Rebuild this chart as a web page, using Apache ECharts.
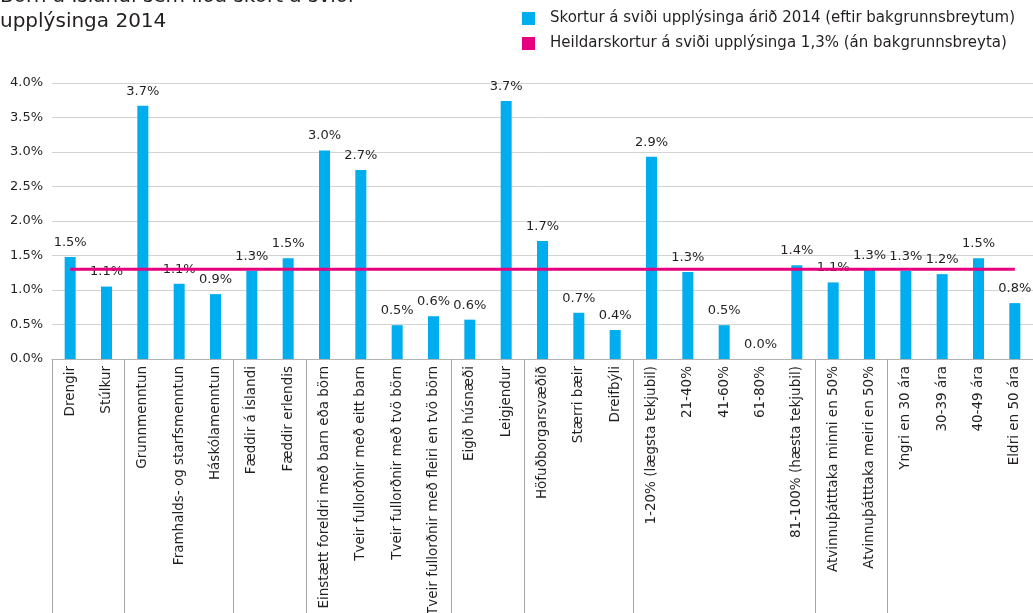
<!DOCTYPE html>
<html>
<head>
<meta charset="utf-8">
<style>
  html, body { margin: 0; padding: 0; background: #fff; }
  #chart { width: 1033px; height: 613px; }
</style>
<script src="https://cdn.jsdelivr.net/npm/echarts@6/dist/echarts.min.js"></script>
</head>
<body>
<div id="chart"></div>
<script>
// Background groups, in axis order
const categories = [
  'Drengir', 'Stúlkur',
  'Grunnmenntun', 'Framhalds- og starfsmenntun', 'Háskólamenntun',
  'Fæddir á Íslandi', 'Fæddir erlendis',
  'Einstætt foreldri með barn eða börn', 'Tveir fullorðnir með eitt barn',
  'Tveir fullorðnir með tvö börn', 'Tveir fullorðnir með fleiri en tvö börn',
  'Eigið húsnæði', 'Leigjendur',
  'Höfuðborgarsvæðið', 'Stærri bæir', 'Dreifbýli',
  '1-20% (lægsta tekjubil)', '21-40%', '41-60%', '61-80%', '81-100% (hæsta tekjubil)',
  'Atvinnuþátttaka minni en 50%', 'Atvinnuþátttaka meiri en 50%',
  'Yngri en 30 ára', '30-39 ára', '40-49 ára', 'Eldri en 50 ára'
];

// Index of the first category in each background group (group dividers)
const groupStarts = [0, 2, 5, 7, 11, 13, 16, 21, 23];

// Deprivation in information, 2014, % of children
const skortur = [
  1.48, 1.05,
  3.67, 1.09, 0.94,
  1.28, 1.46,
  3.02, 2.74, 0.49, 0.62,
  0.57, 3.74,
  1.71, 0.67, 0.42,
  2.93, 1.26, 0.49, 0.0, 1.36,
  1.11, 1.29,
  1.28, 1.23, 1.46, 0.81
];

// Overall deprivation without background variables
const heildarskortur = 1.3;

const yTicks = { min: 0, max: 4, interval: 0.5 };

const seriesNames = [
  'Skortur á sviði upplýsinga árið 2014 (eftir bakgrunnsbreytum)',
  'Heildarskortur á sviði upplýsinga 1,3% (án bakgrunnsbreyta)'
];

const FONT = '"DejaVu Sans", Verdana, sans-serif';
const INK = '#231f20';
const pct = v => v.toFixed(1) + '%';

const chart = echarts.init(document.getElementById('chart'), null, { renderer: 'canvas' });

chart.setOption({
  animation: false,
  textStyle: { fontFamily: FONT },
  title: {
    text: 'Börn á Íslandi sem líða skort á sviði\nupplýsinga 2014',
    left: -5,
    top: -21,
    textStyle: { fontFamily: FONT, fontSize: 20, fontWeight: 'normal', color: INK, lineHeight: 25 }
  },
  legend: {
    orient: 'vertical',
    left: 517,
    top: 6,
    itemGap: 10,
    itemWidth: 13,
    itemHeight: 13,
    icon: 'rect',
    textStyle: { fontFamily: FONT, fontSize: 15, color: INK, padding: [0, 0, 0, 10] },
    data: [
      { name: seriesNames[0], icon: 'rect' },
      { name: seriesNames[1], icon: 'rect', itemStyle: { color: '#e6007e' } }
    ]
  },
  grid: { left: 52, right: 0, top: 83, bottom: 254, containLabel: false, outerBoundsMode: 'none' },
  xAxis: {
    type: 'category',
    data: categories,
    boundaryGap: true,
    axisLine: { show: true, lineStyle: { color: '#b3b3b3', width: 1 } },
    axisTick: {
      show: true,
      length: 260,
      interval: (idx) => groupStarts.includes(idx),
      lineStyle: { color: '#a6a6a6', width: 1 }
    },
    axisLabel: {
      rotate: 90,
      interval: 0,
      margin: 7,
      fontFamily: FONT,
      fontSize: 13.5,
      color: INK
    },
    splitLine: { show: false }
  },
  yAxis: {
    type: 'value',
    min: yTicks.min,
    max: yTicks.max,
    interval: yTicks.interval,
    axisLine: { show: false },
    axisTick: { show: false },
    axisLabel: {
      formatter: v => pct(v),
      fontFamily: FONT,
      fontSize: 13,
      color: INK,
      margin: 9
    },
    splitLine: { lineStyle: { color: '#d3d3d3', width: 1 } }
  },
  series: [
    {
      name: seriesNames[0],
      type: 'bar',
      data: skortur,
      barWidth: 11,
      itemStyle: { color: '#00aeef' },
      label: {
        show: true,
        position: 'top',
        distance: 8,
        formatter: p => pct(p.value),
        fontFamily: FONT,
        fontSize: 13,
        color: INK
      },
      z: 2
    },
    {
      name: seriesNames[1],
      type: 'line',
      data: categories.map(() => heildarskortur),
      symbol: 'none',
      lineStyle: { color: '#e6007e', width: 3 },
      itemStyle: { color: '#e6007e' },
      z: 3
    }
  ]
});
</script>
</body>
</html>
